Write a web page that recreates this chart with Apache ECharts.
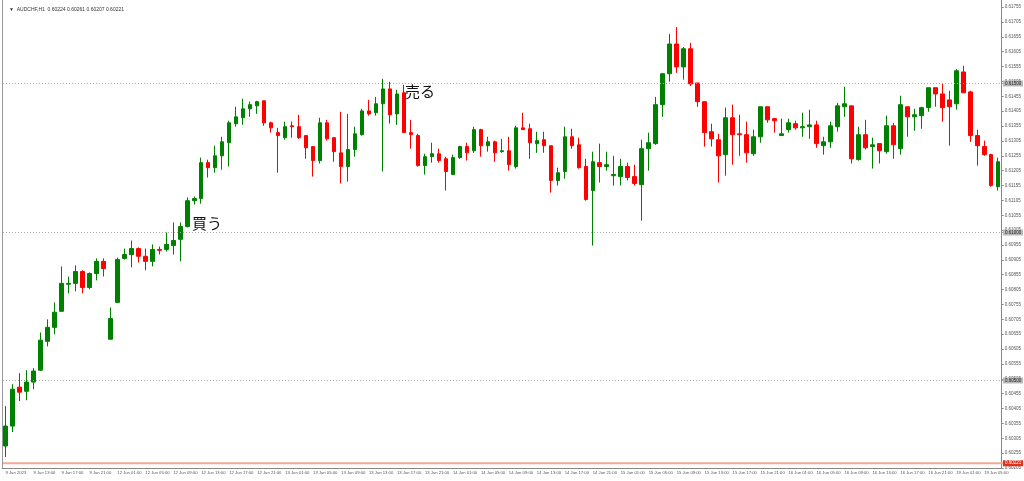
<!DOCTYPE html>
<html><head><meta charset="utf-8">
<script src="https://cdn.jsdelivr.net/npm/echarts@6/dist/echarts.min.js"></script>
<style>html,body{margin:0;padding:0;background:#fff}#c{width:1024px;height:481px}</style>
</head><body><div id="c"></div>
<script>
// [open, close, low, high]
const ohlc = [
[0.60279,0.60346,0.60242,0.60413],[0.60346,0.60470,0.60326,0.60487],[0.60477,0.60460,0.60430,0.60524],[0.60463,0.60494,0.60433,0.60534],
[0.60494,0.60531,0.60470,0.60541],[0.60534,0.60635,0.60531,0.60661],[0.60631,0.60678,0.60614,0.60705],[0.60678,0.60729,0.60655,0.60762],
[0.60732,0.60826,0.60732,0.60883],[0.60823,0.60826,0.60792,0.60849],[0.60826,0.60866,0.60799,0.60886],[0.60866,0.60812,0.60792,0.60870],
[0.60812,0.60859,0.60806,0.60863],[0.60859,0.60900,0.60836,0.60910],[0.60900,0.60876,0.60849,0.60910],[0.60638,0.60708,0.60638,0.60745],
[0.60762,0.60906,0.60762,0.60913],[0.60910,0.60923,0.60906,0.60943],[0.60923,0.60943,0.60880,0.60970],[0.60943,0.60917,0.60896,0.60947],
[0.60917,0.60900,0.60870,0.60943],[0.60900,0.60940,0.60883,0.60957],[0.60940,0.60937,0.60923,0.60950],[0.60940,0.60957,0.60933,0.60997],
[0.60953,0.60970,0.60923,0.61031],[0.60974,0.61017,0.60900,0.61031],[0.61017,0.61104,0.61014,0.61115],[0.61104,0.61111,0.61091,0.61118],
[0.61111,0.61232,0.61094,0.61249],[0.61232,0.61215,0.61182,0.61242],[0.61215,0.61255,0.61198,0.61289],[0.61255,0.61302,0.61208,0.61319],
[0.61299,0.61366,0.61219,0.61373],[0.61363,0.61386,0.61353,0.61420],[0.61383,0.61413,0.61359,0.61447],[0.61413,0.61427,0.61386,0.61437],
[0.61423,0.61437,0.61396,0.61440],[0.61440,0.61366,0.61356,0.61440],[0.61366,0.61349,0.61333,0.61370],[0.61333,0.61323,0.61198,0.61349],
[0.61316,0.61353,0.61309,0.61370],[0.61356,0.61353,0.61316,0.61370],[0.61353,0.61316,0.61312,0.61393],[0.61323,0.61282,0.61245,0.61323],
[0.61286,0.61239,0.61185,0.61286],[0.61239,0.61366,0.61229,0.61383],[0.61366,0.61312,0.61306,0.61376],[0.61316,0.61269,0.61235,0.61316],
[0.61265,0.61219,0.61162,0.61403],[0.61219,0.61276,0.61168,0.61396],[0.61276,0.61329,0.61252,0.61353],[0.61326,0.61406,0.61323,0.61413],
[0.61406,0.61396,0.61390,0.61443],[0.61400,0.61430,0.61390,0.61453],[0.61430,0.61480,0.61202,0.61514],[0.61480,0.61393,0.61363,0.61504],
[0.61396,0.61463,0.61359,0.61477],[0.61467,0.61333,0.61333,0.61494],[0.61333,0.61326,0.61279,0.61376],[0.61323,0.61222,0.61219,0.61329],
[0.61222,0.61252,0.61192,0.61262],[0.61252,0.61262,0.61232,0.61299],[0.61262,0.61239,0.61232,0.61279],[0.61245,0.61202,0.61138,0.61252],
[0.61192,0.61249,0.61192,0.61259],[0.61249,0.61286,0.61245,0.61289],[0.61286,0.61265,0.61239,0.61299],[0.61272,0.61343,0.61265,0.61353],
[0.61343,0.61289,0.61252,0.61346],[0.61289,0.61302,0.61269,0.61319],[0.61302,0.61265,0.61235,0.61306],[0.61269,0.61272,0.61265,0.61312],
[0.61272,0.61225,0.61205,0.61319],[0.61219,0.61349,0.61212,0.61356],[0.61349,0.61343,0.61343,0.61400],[0.61346,0.61299,0.61245,0.61363],
[0.61296,0.61306,0.61265,0.61336],[0.61309,0.61289,0.61265,0.61336],[0.61289,0.61172,0.61131,0.61289],[0.61172,0.61198,0.61155,0.61215],
[0.61202,0.61319,0.61178,0.61353],[0.61319,0.61289,0.61279,0.61346],[0.61292,0.61215,0.61212,0.61316],[0.61219,0.61108,0.61104,0.61245],
[0.61138,0.61235,0.60953,0.61269],[0.61232,0.61219,0.61165,0.61296],[0.61219,0.61225,0.61205,0.61269],[0.61188,0.61192,0.61155,0.61255],
[0.61185,0.61219,0.61155,0.61245],[0.61219,0.61182,0.61172,0.61232],[0.61185,0.61162,0.61155,0.61225],[0.61158,0.61279,0.61037,0.61309],
[0.61279,0.61299,0.61205,0.61333],[0.61296,0.61427,0.61292,0.61453],[0.61427,0.61531,0.61386,0.61534],[0.61531,0.61631,0.61504,0.61665],
[0.61631,0.61554,0.61534,0.61688],[0.61554,0.61615,0.61511,0.61621],[0.61615,0.61497,0.61490,0.61635],[0.61500,0.61437,0.61420,0.61500],
[0.61437,0.61333,0.61286,0.61437],[0.61336,0.61312,0.61286,0.61363],[0.61309,0.61255,0.61165,0.61329],[0.61259,0.61383,0.61188,0.61417],
[0.61383,0.61326,0.61225,0.61427],[0.61329,0.61326,0.61255,0.61393],[0.61326,0.61265,0.61232,0.61370],[0.61262,0.61319,0.61255,0.61343],
[0.61319,0.61420,0.61299,0.61420],[0.61420,0.61376,0.61366,0.61420],[0.61380,0.61373,0.61333,0.61383],[0.61323,0.61329,0.61323,0.61380],
[0.61343,0.61366,0.61333,0.61380],[0.61363,0.61349,0.61343,0.61373],[0.61349,0.61353,0.61319,0.61400],[0.61353,0.61359,0.61312,0.61410],
[0.61359,0.61296,0.61282,0.61373],[0.61289,0.61302,0.61259,0.61319],[0.61302,0.61356,0.61282,0.61370],[0.61353,0.61423,0.61336,0.61433],
[0.61420,0.61430,0.61386,0.61487],[0.61423,0.61245,0.61229,0.61423],[0.61242,0.61326,0.61239,0.61353],[0.61326,0.61282,0.61276,0.61376],
[0.61286,0.61292,0.61212,0.61316],[0.61296,0.61272,0.61229,0.61296],[0.61269,0.61356,0.61262,0.61390],[0.61356,0.61292,0.61245,0.61366],
[0.61279,0.61427,0.61259,0.61457],[0.61420,0.61386,0.61319,0.61420],[0.61386,0.61393,0.61339,0.61413],[0.61390,0.61417,0.61346,0.61420],
[0.61417,0.61484,0.61403,0.61484],[0.61484,0.61463,0.61420,0.61484],[0.61463,0.61417,0.61370,0.61500],[0.61443,0.61420,0.61289,0.61474],
[0.61430,0.61541,0.61410,0.61547],[0.61537,0.61467,0.61467,0.61558],[0.61470,0.61323,0.61302,0.61474],[0.61323,0.61289,0.61222,0.61343],
[0.61286,0.61259,0.61255,0.61306],[0.61259,0.61155,0.61151,0.61262],[0.61151,0.61235,0.61138,0.61249]
];
const dayNames = ['9 Jun','12 Jun','13 Jun','14 Jun','15 Jun','16 Jun','19 Jun'];
const dayFirstHour = [9,0,0,0,0,0,0];
const dayLastHour = [23,23,23,23,23,23,7];
const hLines = [0.615, 0.610, 0.605];
const bidPrice = 0.60221;
const titleText = '▼  AUDCHF,H1  0.60224 0.60261 0.60207 0.60221';

const categories = [];
dayNames.forEach((d,i)=>{for(let h=dayFirstHour[i];h<=dayLastHour[i];h++){
  categories.push(categories.length===0 ? '9 Jun 2023' : d+' '+String(h).padStart(2,'0')+':00');}});

const up='#008000', dn='#ff0000';
const FONT='Liberation Sans';
const chart = echarts.init(document.getElementById('c'));
chart.setOption({
  animation:false,
  grid:{left:2,right:21,top:0,bottom:13},
  title:{text:titleText,left:4,top:2,textStyle:{fontSize:5,fontWeight:'normal',color:'#333',fontFamily:FONT}},
  xAxis:{type:'category',data:categories.slice(0,ohlc.length),boundaryGap:true,
    axisLine:{lineStyle:{color:'#888'}},
    axisTick:{interval:3,length:2,lineStyle:{color:'#888'},alignWithLabel:true},
    axisLabel:{interval:3,fontSize:4.2,color:'#555',align:'left',margin:3,fontFamily:FONT},
    splitLine:{show:false}},
  yAxis:{type:'value',position:'right',min:0.60205,max:0.61779,interval:0.0005,
    axisLine:{show:true,lineStyle:{color:'#888'}},
    axisTick:{show:true,length:2,lineStyle:{color:'#888'}},
    axisLabel:{fontSize:4.5,color:'#555',margin:3,showMaxLabel:false,formatter:v=>v.toFixed(5),fontFamily:FONT},
    splitLine:{show:false}},
  series:[{type:'candlestick',data:ohlc,barWidth:4,
    itemStyle:{color:up,color0:dn,borderColor:up,borderColor0:dn,borderWidth:1}}]
});
const g=[
  {type:'line',shape:{x1:2.5,y1:0,x2:2.5,y2:468},style:{stroke:'#999',lineWidth:1},z:10},
  {type:'text',left:192,top:216,style:{text:'買う',fontSize:15,fill:'#111',fontFamily:'Noto Sans CJK JP'},z:10},
  {type:'text',left:405,top:84,style:{text:'売る',fontSize:15,fill:'#111',fontFamily:'Noto Sans CJK JP'},z:10}
];
const xr=1003;
hLines.forEach(v=>{
  const y=Math.round(chart.convertToPixel({yAxisIndex:0},v))+0.5;
  g.push({type:'line',shape:{x1:3,y1:y,x2:xr,y2:y},style:{stroke:'#aaa',lineWidth:1,lineDash:[1,2]},z:5});
  g.push({type:'rect',shape:{x:xr,y:y-3,width:20,height:6},style:{fill:'#b8b8b8'},z:11});
  g.push({type:'text',x:xr+2,y:y-2.5,style:{text:v.toFixed(5),fontSize:4.5,fill:'#222',fontFamily:FONT},z:12});
});
{
  const y=chart.convertToPixel({yAxisIndex:0},bidPrice);
  g.push({type:'line',shape:{x1:3,y1:y,x2:xr,y2:y},style:{stroke:'#f7a98e',lineWidth:2},z:5});
  g.push({type:'rect',shape:{x:xr,y:y-3,width:20,height:6},style:{fill:'#e0301e'},z:11});
  g.push({type:'text',x:xr+2,y:y-2.5,style:{text:bidPrice.toFixed(5),fontSize:4.5,fill:'#fff',fontFamily:FONT},z:12});
}
chart.setOption({graphic:g});
</script></body></html>
